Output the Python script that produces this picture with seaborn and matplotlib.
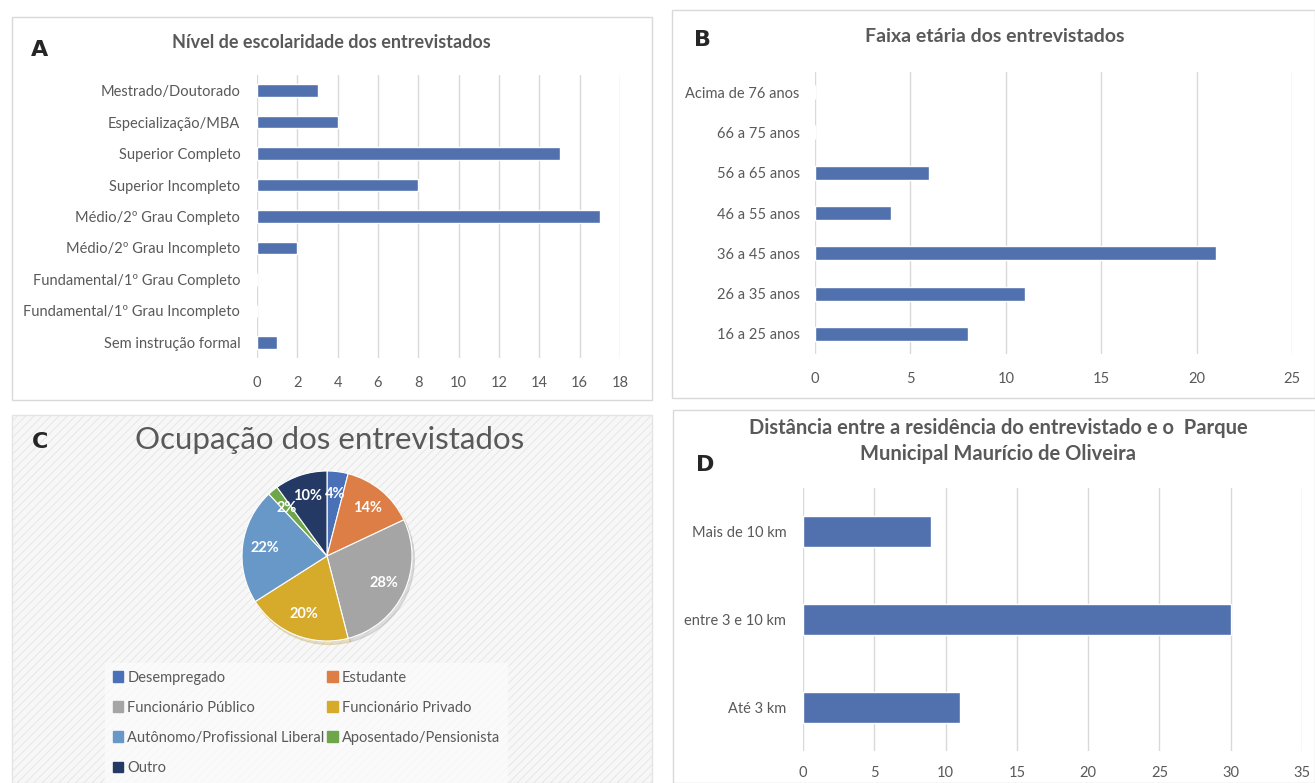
'''Perfil dos entrevistados - Parque Municipal Maurício de Oliveira'''
import matplotlib
matplotlib.use('Agg')
import matplotlib.pyplot as plt
import matplotlib.patches as mpatches
import seaborn as sns
import pandas as pd

# --- data -------------------------------------------------------------
escolaridade = ['Mestrado/Doutorado', 'Especialização/MBA', 'Superior Completo',
                'Superior Incompleto', 'Médio/2º Grau Completo', 'Médio/2º Grau Incompleto',
                'Fundamental/1º Grau Completo', 'Fundamental/1º Grau Incompleto',
                'Sem instrução formal']
escolaridade_n = [3, 4, 15, 8, 17, 2, 0, 0, 1]

faixa_etaria = ['Acima de 76 anos', '66 a 75 anos', '56 a 65 anos', '46 a 55 anos',
                '36 a 45 anos', '26 a 35 anos', '16 a 25 anos']
faixa_etaria_n = [0, 0, 6, 4, 21, 11, 8]

ocupacao = ['Desempregado', 'Estudante', 'Funcionário Público', 'Funcionário Privado',
            'Autônomo/Profissional Liberal', 'Aposentado/Pensionista', 'Outro']
ocupacao_pct = [4, 14, 28, 20, 22, 2, 10]
ocupacao_cores = ['#4a70b8', '#dc7e45', '#a5a5a5', '#d6aa2b', '#6898c8', '#6fa64a', '#243a64']

distancia = ['Mais de 10 km', 'entre 3 e 10 km', 'Até 3 km']
distancia_n = [9, 30, 11]

BAR = '#5070ae'
GREY = '#595959'
W, H = 1315, 783

sns.set_style('white')
plt.rcParams['font.family'] = ['Lato', 'DejaVu Sans']
plt.rcParams['hatch.linewidth'] = 0.6


def fr(x0, y0, x1, y1):
    # pixel box (top-left origin) -> figure fraction
    return [x0 / W, 1 - y1 / H, (x1 - x0) / W, (y1 - y0) / H]


def panel_box(fig, x0, y0, x1, y1, **kw):
    r = mpatches.Rectangle((x0 / W, 1 - y1 / H), (x1 - x0) / W, (y1 - y0) / H,
                           transform=fig.transFigure, fill=kw.pop('fill', False),
                           edgecolor=kw.pop('edgecolor', '#d9d9d9'), linewidth=1, zorder=-5, **kw)
    fig.patches.append(r)


def hbar(ax, cats, vals, xmax, step, width, pad_x, pad_y):
    df = pd.DataFrame({'cat': cats, 'n': vals})
    sns.barplot(data=df, y='cat', x='n', orient='h', color=BAR, width=width,
                saturation=1, ax=ax, zorder=3)
    ax.set_xlim(0, xmax)
    ax.set_xticks(range(0, xmax + 1, step))
    ax.grid(True, axis='x', color='#d9d9d9', linewidth=1, zorder=0)
    ax.set_axisbelow(True)
    ax.set_xlabel('')
    ax.set_ylabel('')
    sns.despine(ax=ax, left=True, bottom=True)
    ax.tick_params(axis='x', length=0, pad=pad_x, labelsize=10.5, colors=GREY)
    ax.tick_params(axis='y', length=0, pad=pad_y, labelsize=10.5, colors=GREY)
    ax.patch.set_alpha(0)


fig = plt.figure(figsize=(W / 100, H / 100), dpi=100)

# panel frames
panel_box(fig, 12, 17, 652, 400)
panel_box(fig, 672, 10, 1315, 398)
panel_box(fig, 12, 415, 652, 783, fill=True, facecolor='#f7f7f7', edgecolor='#e4e4e4', hatch='////')
panel_box(fig, 673, 410, 1315, 783)

# A - escolaridade
axA = fig.add_axes(fr(257, 75, 620, 358))
hbar(axA, escolaridade, escolaridade_n, 18, 2, 0.4, 13, 12)
fig.text(40 / W, 1 - 50 / H, 'A', fontsize=16, fontweight='bold', ha='center', va='center',
         family=['DejaVu Sans'])
fig.text(331 / W, 1 - 43 / H, 'Nível de escolaridade dos entrevistados', fontsize=13,
         fontweight='bold', color=GREY, ha='center', va='center')

# B - faixa etaria
axB = fig.add_axes(fr(815, 72, 1292, 354))
hbar(axB, faixa_etaria, faixa_etaria_n, 25, 5, 0.35, 13, 11)
fig.text(703 / W, 1 - 40 / H, 'B', fontsize=16, fontweight='bold', ha='center', va='center',
         family=['DejaVu Sans'])
fig.text(995 / W, 1 - 37 / H, 'Faixa etária dos entrevistados', fontsize=14,
         fontweight='bold', color=GREY, ha='center', va='center')

# C - ocupacao (pizza)
axC = fig.add_axes(fr(242, 471, 412, 641))
axC.set_zorder(2)
wedges, _, autotexts = axC.pie(ocupacao_pct, colors=ocupacao_cores, startangle=90,
                               counterclock=False, autopct='%d%%', pctdistance=0.74,
                               wedgeprops=dict(linewidth=0.8, edgecolor='white'),
                               textprops=dict(color='white', fontweight='bold', fontsize=10.5),
                               shadow=dict(ox=0.02, oy=-0.03, shade=0.15, alpha=0.25))
axC.set_xlim(-1, 1)
axC.set_ylim(-1, 1)
fig.text(40 / W, 1 - 442 / H, 'C', fontsize=16, fontweight='bold', ha='center', va='center',
         family=['DejaVu Sans'])
fig.text(330 / W, 1 - 440 / H, 'Ocupação dos entrevistados', fontsize=22.5,
         color=GREY, ha='center', va='center')
order = [0, 2, 4, 6, 1, 3, 5]
handles = [mpatches.Patch(color=ocupacao_cores[i], label=ocupacao[i]) for i in order]
legC = fig.legend(handles=handles, ncol=2, loc='upper left',
                  bbox_to_anchor=(98 / W, 1 - 656 / H), frameon=True, fontsize=10.5,
                  handlelength=0.7, handleheight=0.7, handletextpad=0.3, columnspacing=0.2,
                  labelspacing=1.1, borderpad=0.5)
legC.get_frame().set_facecolor('#fbfbfb')
legC.get_frame().set_edgecolor('#fbfbfb')
for t in legC.get_texts():
    t.set_color(GREY)

# D - distancia
axD = fig.add_axes(fr(803, 488, 1302, 751))
hbar(axD, distancia, distancia_n, 35, 5, 0.35, 11, 12)
fig.text(705 / W, 1 - 465 / H, 'D', fontsize=16, fontweight='bold', ha='center', va='center',
         family=['DejaVu Sans'])
fig.text(998 / W, 1 - 441 / H,
         'Distância entre a residência do entrevistado e o  Parque\nMunicipal Maurício de Oliveira',
         fontsize=14.5, fontweight='bold', color=GREY, ha='center', va='center', linespacing=1.4)

fig.savefig('out.png', dpi=100)
